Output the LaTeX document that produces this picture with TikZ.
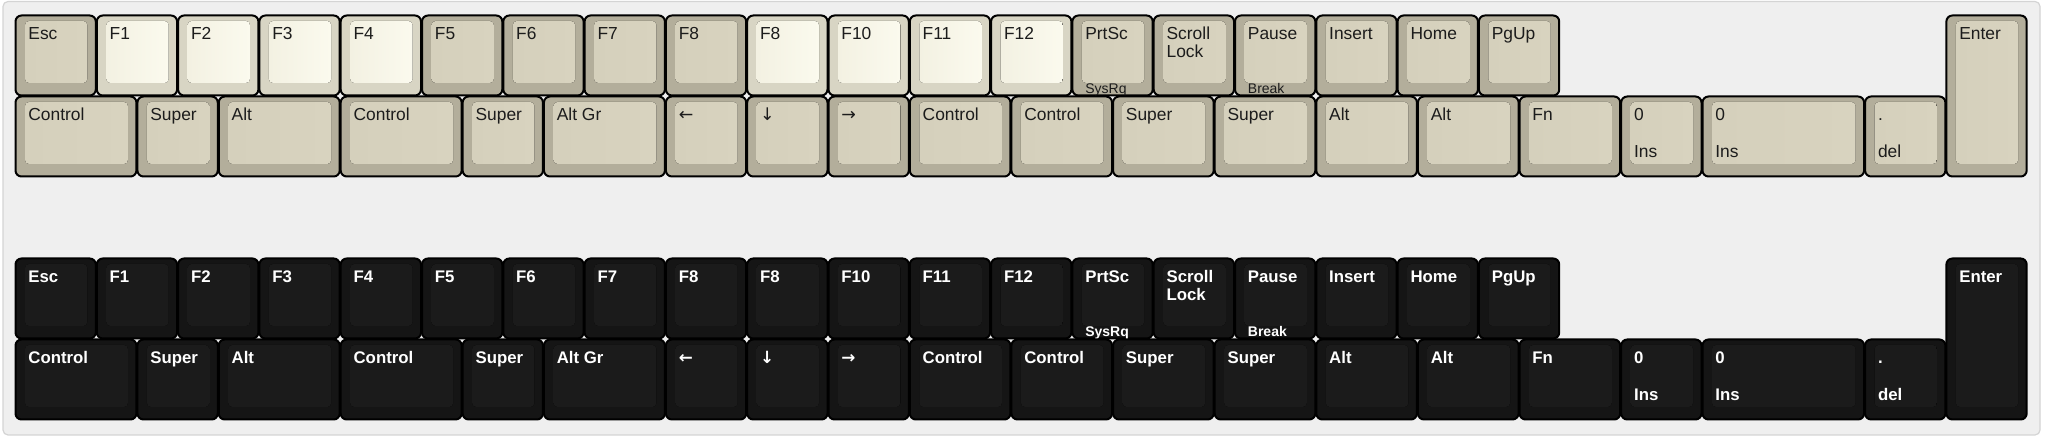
\documentclass[tikz,border=0pt]{standalone}
\usepackage{fontspec}
\setmainfont{Liberation Sans}
\newfontfamily\fleche{DejaVu Sans}

\definecolor{panneau}{HTML}{EFEFEF}
\definecolor{bord}{HTML}{D4D4D4}
\definecolor{encre}{HTML}{1C1C1C}
\definecolor{fonds}{HTML}{B3AE9B}
\definecolor{faceAs}{HTML}{D5D0BC}
\definecolor{faceBs}{HTML}{C3BEA8}
\definecolor{faceCs}{HTML}{D8D3BF}
\definecolor{fondc}{HTML}{D8D5C4}
\definecolor{faceAc}{HTML}{F3F1E2}
\definecolor{faceBc}{HTML}{E6E3D0}
\definecolor{faceCc}{HTML}{FBFAEE}
\definecolor{fondn}{HTML}{151515}
\definecolor{faceAn}{HTML}{1B1B1B}
\definecolor{faceBn}{HTML}{181818}
\definecolor{faceCn}{HTML}{1B1B1B}

\tikzset{
	plaque/.style={fill=panneau, draw=bord, line width=0.6pt, rounded corners=2.5pt},
	touche/.style={draw=black, line width=1pt, rounded corners=3pt},
	face/.style={rounded corners=2pt},
	etiq/.style={anchor=base west, inner sep=0pt, text=encre, font=\fontsize{8.7}{9}\selectfont},
	petit/.style={etiq, font=\fontsize{7}{8}\selectfont}
}

% une touche : nom, position (u), haut (px), largeur (u), hauteur (u), type, texte
\newcommand{\cote}{81.3}
\newcommand{\cle}[7]{%
	\draw[touche, fill=fond#6] ({15+#2*\cote+0.5},{#3+0.5}) rectangle ({15+(#2+#4)*\cote-0.5},{#3+#5*81-0.5});
	\fill[face, left color=faceA#6, middle color=faceB#6, right color=faceC#6] ({15+#2*\cote+10},{#3+6}) rectangle ({15+(#2+#4)*\cote-9},{#3+#5*81-13});
	\node[etiq] (#1) at ({15+#2*\cote+13},{#3+25}) {#7};
}

\begin{document}
\begin{tikzpicture}[x=0.5pt,y=-0.5pt]
	\useasboundingbox (0,0) rectangle (2048,437);
	% le fond
	\fill[white] (0,0) rectangle (2048,437);
	\draw[plaque] (3,1.5) rectangle (2040,435);
	% le clavier beige
	\foreach \x/\typ/\lab [count=\i] in {0/s/Esc, 1/c/F1, 2/c/F2, 3/c/F3, 4/c/F4, 5/s/F5, 6/s/F6, 7/s/F7, 8/s/F8, 9/c/F8, 10/c/F10, 11/c/F11, 12/c/F12, 13/s/PrtSc, 14/s/{\vtop{\hbox{Scroll}\hbox{Lock}}}, 15/s/Pause, 16/s/Insert, 17/s/Home, 18/s/PgUp}
		\cle{b-h\i}{\x}{15}{1}{1}{\typ}{\lab};
	\node[petit] (b-sys) at ([yshift=-27pt]b-h14.base west) {SysRq};
	\node[petit] (b-brk) at ([yshift=-27pt]b-h16.base west) {Break};
	\foreach \x/\w/\lab [count=\i] in {0/1.5/Control, 1.5/1/Super, 2.5/1.5/Alt, 4/1.5/Control, 5.5/1/Super, 6.5/1.5/Alt Gr, 8/1/{\fleche ←}, 9/1/{\fleche ↓}, 10/1/{\fleche →}, 11/1.25/Control, 12.25/1.25/Control, 13.5/1.25/Super, 14.75/1.25/Super, 16/1.25/Alt, 17.25/1.25/Alt, 18.5/1.25/Fn, 19.75/1/0, 20.75/2/0, 22.75/1/.}
		\cle{b-b\i}{\x}{96}{\w}{1}{s}{\lab};
	\node[etiq] (b-ins) at ([yshift=-18.5pt]b-b17.base west) {Ins};
	\node[etiq] (b-ins2) at ([yshift=-18.5pt]b-b18.base west) {Ins};
	\node[etiq] (b-del) at ([yshift=-18.5pt]b-b19.base west) {del};
	\cle{b-ent}{23.75}{15}{1}{2}{s}{Enter}
	% le clavier noir
	\begin{scope}[shift={(0,243)}, etiq/.append style={text=white, font=\fontsize{8.4}{9}\selectfont\bfseries}, petit/.append style={font=\fontsize{7}{8}\selectfont\bfseries}]
	\foreach \x/\lab [count=\i] in {0/Esc, 1/F1, 2/F2, 3/F3, 4/F4, 5/F5, 6/F6, 7/F7, 8/F8, 9/F8, 10/F10, 11/F11, 12/F12, 13/PrtSc, 14/{\vtop{\hbox{Scroll}\hbox{Lock}}}, 15/Pause, 16/Insert, 17/Home, 18/PgUp}
		\cle{n-h\i}{\x}{15}{1}{1}{n}{\lab};
	\node[petit] (n-sys) at ([yshift=-27pt]n-h14.base west) {SysRq};
	\node[petit] (n-brk) at ([yshift=-27pt]n-h16.base west) {Break};
	\foreach \x/\w/\lab [count=\i] in {0/1.5/Control, 1.5/1/Super, 2.5/1.5/Alt, 4/1.5/Control, 5.5/1/Super, 6.5/1.5/Alt Gr, 8/1/{\fleche ←}, 9/1/{\fleche ↓}, 10/1/{\fleche →}, 11/1.25/Control, 12.25/1.25/Control, 13.5/1.25/Super, 14.75/1.25/Super, 16/1.25/Alt, 17.25/1.25/Alt, 18.5/1.25/Fn, 19.75/1/0, 20.75/2/0, 22.75/1/.}
		\cle{n-b\i}{\x}{96}{\w}{1}{n}{\lab};
	\node[etiq] (n-ins) at ([yshift=-18.5pt]n-b17.base west) {Ins};
	\node[etiq] (n-ins2) at ([yshift=-18.5pt]n-b18.base west) {Ins};
	\node[etiq] (n-del) at ([yshift=-18.5pt]n-b19.base west) {del};
	\cle{n-ent}{23.75}{15}{1}{2}{n}{Enter}
	\end{scope}
\end{tikzpicture}
\end{document}
